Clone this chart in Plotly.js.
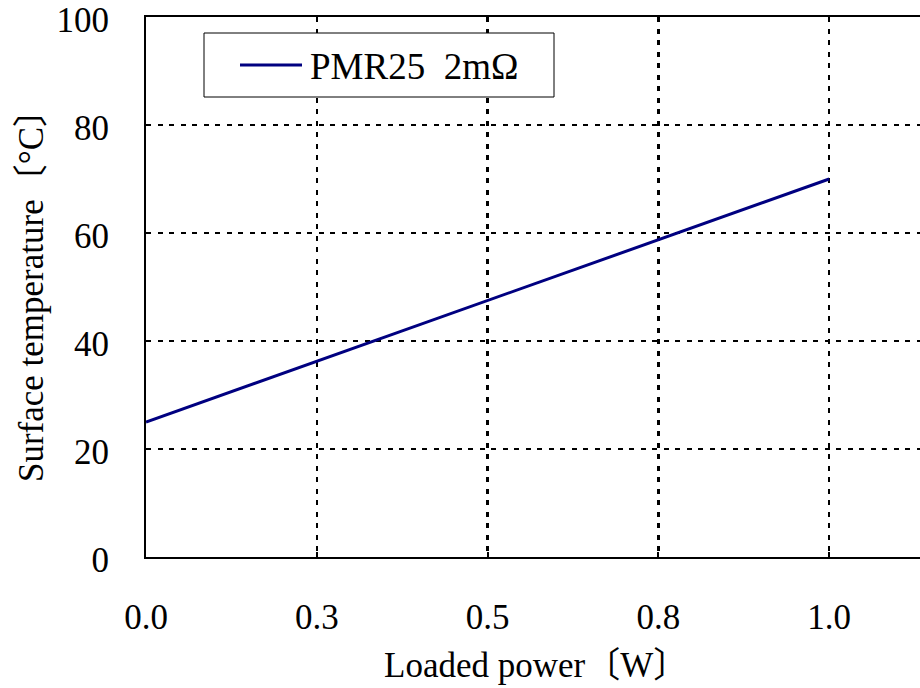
<!DOCTYPE html>
<html>
<head>
<meta charset="utf-8">
<script src="https://cdn.plot.ly/plotly-3.0.1.min.js"></script>
<style>
html,body{margin:0;padding:0;overflow:hidden;background:#fff;}
#chart{width:1000px;height:688px;}
</style>
</head>
<body>
<div id="chart"></div>
<script>
const seriesName = "PMR25\u00a0\u00a02m\u03a9";
const powerW = [0.0, 1.0];
const tempC = [25, 70];
const xTickVals = [0, 0.25, 0.5, 0.75, 1.0];
const xTickText = ["0.0", "0.3", "0.5", "0.8", "1.0"];
const yTickVals = [0, 20, 40, 60, 80, 100];
const xTitle = "Loaded power\u3014W\u3015";
const yTitle = "Surface temperature\u3014\u00b0C\u3015";

const FONT = "'Liberation Serif', 'Times New Roman', 'Noto Sans CJK JP', serif";
const FS = 35;
const LINE_COLOR = '#000080';

// pixel -> paper helpers (plot area: x 146..1000, y 17..557)
const px = v => (v - 146) / 854;
const py = v => (557 - v) / 540;

const trace = {
  x: powerW, y: tempC, type: 'scatter', mode: 'lines', name: seriesName,
  line: {color: LINE_COLOR, width: 3}, showlegend: false
};

const layout = {
  width: 1000, height: 688,
  margin: {l: 146, r: 0, t: 17, b: 131},
  paper_bgcolor: '#fff', plot_bgcolor: '#fff',
  font: {family: FONT, size: FS, color: '#000'},
  showlegend: false,
  xaxis: {
    range: [0, 1.25], tickvals: xTickVals, ticktext: xTickText,
    showgrid: true, gridcolor: '#000', gridwidth: 2.5, griddash: '5px,6.5px',
    showline: true, linecolor: '#000', linewidth: 2, mirror: true,
    ticks: 'inside', ticklen: 5, tickwidth: 2, tickcolor: '#000',
    ticklabelstandoff: 28, zeroline: false, ticklabeloverflow: 'allow',
    tickfont: {family: FONT, size: FS, color: '#000'}
  },
  yaxis: {
    range: [0, 100], tickvals: yTickVals,
    showgrid: true, gridcolor: '#000', gridwidth: 2.5, griddash: '5px,6.5px',
    showline: true, linecolor: '#000', linewidth: 2, mirror: true,
    ticks: 'inside', ticklen: 5, tickwidth: 2, tickcolor: '#000',
    ticklabelstandoff: 28, ticklabelshift: 3, zeroline: false, ticklabeloverflow: 'allow',
    tickfont: {family: FONT, size: FS, color: '#000'},
    title: {text: yTitle, font: {family: FONT, size: FS, color: '#000'}, standoff: 2}
  },
  shapes: [
    {type: 'rect', xref: 'paper', yref: 'paper', x0: px(204), x1: px(554), y0: py(97), y1: py(33),
     fillcolor: '#fff', line: {color: '#000', width: 1}, layer: 'above'},
    {type: 'line', xref: 'paper', yref: 'paper', x0: px(240), x1: px(302), y0: py(65), y1: py(65),
     line: {color: LINE_COLOR, width: 3}, layer: 'above'}
  ],
  annotations: [
    {text: seriesName, xref: 'paper', yref: 'paper', x: px(308), y: py(66),
     xanchor: 'left', yanchor: 'middle', showarrow: false,
     font: {family: FONT, size: 37, color: '#000'}},
    {text: xTitle, xref: 'paper', yref: 'paper',
     x: px(536), y: py(665), xanchor: 'center', yanchor: 'middle',
     showarrow: false, font: {family: FONT, size: FS, color: '#000'}}
  ]
};

Plotly.newPlot('chart', [trace], layout, {staticPlot: true, displayModeBar: false});
</script>
</body>
</html>
